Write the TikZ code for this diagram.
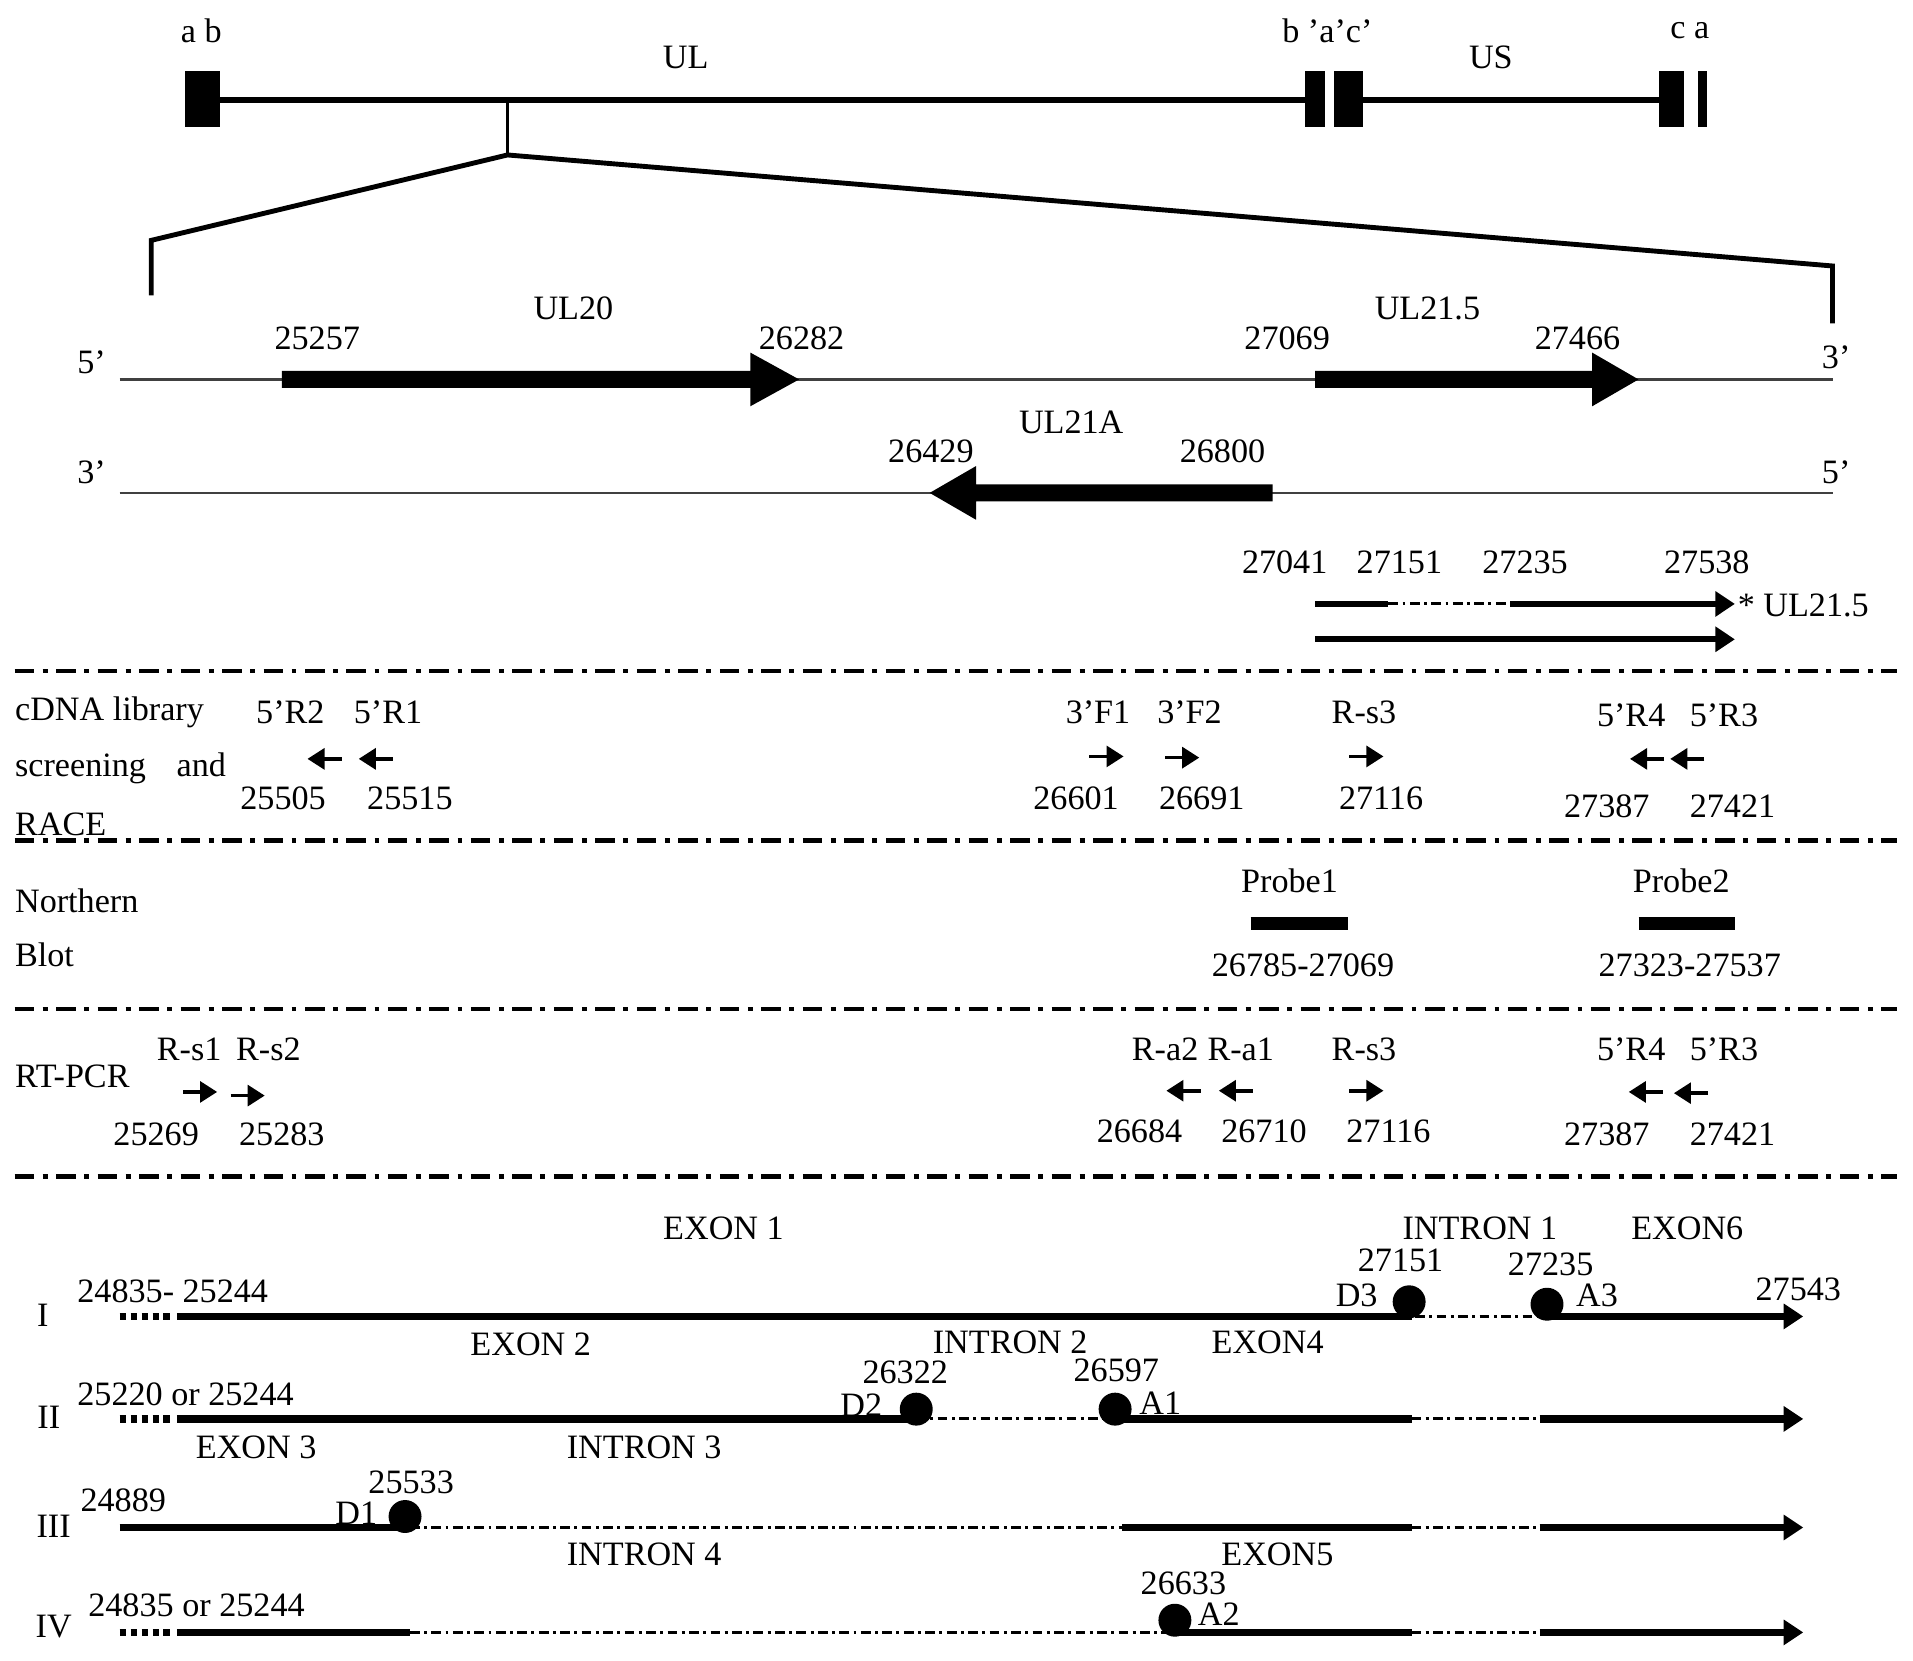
\documentclass[tikz,border=0pt]{standalone}
\usepackage{fontspec}
\setmainfont{Liberation Serif}
\usetikzlibrary{arrows.meta}
\newcommand\genearrow[4]{% start, neck, point, height
  \fill (#1,#4-7) -- (#2,#4-7) -- (#2,#4-22) -- (#3,#4)
        -- (#2,#4+22) -- (#2,#4+7) -- (#1,#4+7) -- cycle;}

\begin{document}
\begin{tikzpicture}[x=0.5pt,y=-0.5pt,
  lbl/.style={inner sep=0pt, font=\fontsize{14}{16}\selectfont},
  strand/.style={line width=1pt, black!75},
  sepline/.style={line width=2pt, dash pattern=on 8pt off 3.5pt on 2pt off 3.5pt},
  exon/.style={line width=3pt},
  intron/.style={line width=1.2pt, dash pattern=on 4pt off 1.8pt on 1.2pt off 1.8pt},
  lead/.style={line width=3pt, dash pattern=on 2.5pt off 2pt},
  primer/.style={line width=1.5pt, -{Triangle[length=7pt,width=8.5pt]}},
  endarrow/.style={-{Triangle[length=8pt,width=10pt]}},
  site/.style={circle, fill, inner sep=0pt, minimum size=13.5pt}]
\useasboundingbox (0,0) rectangle (1568,1361);

  % genome map
  \fill (152,58) rectangle (180,104);
  \draw[line width=2.5pt] (180,82) -- (1072,82);
  \fill (1070,58) rectangle (1086,104);
  \fill (1093,58) rectangle (1117,104);
  \draw[line width=2.5pt] (1117,82) -- (1360,82);
  \fill (1360,58) rectangle (1380,104);
  \fill (1392,58) rectangle (1399,104);
  \node[lbl] (ab) at (165,25) {a b};
  \node[lbl] (ul) at (562,47) {UL};
  \node[lbl] (bac) at (1088,25) {b ’a’c’};
  \node[lbl] (us) at (1222,47) {US};
  \node[lbl] (ca) at (1385,25) {c a};

  % blow-up of the region
  \coordinate (stem) at (416,82);
  \coordinate (apex) at (416,127);
  \coordinate (leftcorner) at (124,197);
  \coordinate (rightcorner) at (1502,218);
  \draw[line width=1.5pt] (stem) -- (apex);
  \draw[line width=2pt] (124,242) -- (leftcorner) -- (apex) -- (rightcorner) -- (1502,265);

  % upper strand
  \draw[strand] (98,311) -- (1502,311);
  \genearrow{231}{615}{655}{311}
  \genearrow{1078}{1305}{1343}{311}
  \node[lbl] (five1) at (75,297) {5’};
  \node[lbl] (three1) at (1505,293) {3’};
  \node[lbl] (ul20) at (470,253) {UL20};
  \node[lbl] (s25257) at (260,277) {25257};
  \node[lbl] (e26282) at (657,277) {26282};
  \node[lbl] (ul215) at (1170,253) {UL21.5};
  \node[lbl] (s27069) at (1055,277) {27069};
  \node[lbl] (e27466) at (1293,277) {27466};

  % lower strand
  \draw[strand] (98,404) -- (1502,404);
  \genearrow{1043}{800}{762}{404}
  \node[lbl] (three2) at (75,387) {3’};
  \node[lbl] (five2) at (1505,387) {5’};
  \node[lbl] (ul21a) at (878,346) {UL21A};
  \node[lbl] (e26429) at (763,370) {26429};
  \node[lbl] (s26800) at (1002,370) {26800};

  % transcripts
  \node[lbl] (t27041) at (1053,461) {27041};
  \node[lbl] (t27151) at (1147,461) {27151};
  \node[lbl] (t27235) at (1250,461) {27235};
  \node[lbl] (t27538) at (1399,461) {27538};
  \draw[line width=2.5pt] (1078,495) -- (1138,495);
  \draw[intron] (1138,495) -- (1238,495);
  \draw[line width=2.5pt, endarrow] (1238,495) -- (1422,495);
  \draw[line width=2.5pt, endarrow] (1078,524) -- (1422,524);
  \node[lbl, anchor=west] (star) at (1424,496) {* UL21.5};

  % section dividers
  \foreach \y in {550,689,827,964}
    \draw[sepline] (12,\y) -- (1555,\y);

  % cDNA library screening and RACE
  \node[lbl, anchor=west] (cdna) at (12,584) {cDNA library};
  \node[lbl, anchor=west] (screen) at (12,630) {screening\hspace{0.9em}and};
  \node[lbl, anchor=west] (race) at (12,676) {RACE};
  \node[lbl] (r2) at (238,584) {5’R2};
  \node[lbl] (r1) at (318,584) {5’R1};
  \draw[primer] (280,622) -- (252,622);
  \draw[primer] (322,622) -- (294,622);
  \node[lbl] (p25505) at (232,654) {25505};
  \node[lbl] (p25515) at (336,654) {25515};
  \node[lbl] (f1) at (900,584) {3’F1};
  \node[lbl] (f2) at (975,584) {3’F2};
  \node[lbl] (rs3a) at (1118,584) {R-s3};
  \draw[primer] (893,620) -- (921,620);
  \draw[primer] (955,621) -- (983,621);
  \draw[primer] (1106,620) -- (1134,620);
  \node[lbl] (p26601) at (882,654) {26601};
  \node[lbl] (p26691) at (985,654) {26691};
  \node[lbl] (p27116a) at (1132,654) {27116};
  \node[lbl] (r4a) at (1337,586) {5’R4};
  \node[lbl] (r3a) at (1413,586) {5’R3};
  \draw[primer] (1364,622) -- (1336,622);
  \draw[primer] (1397,622) -- (1369,622);
  \node[lbl] (p27387a) at (1317,661) {27387};
  \node[lbl] (p27421a) at (1420,661) {27421};

  % Northern blot
  \node[lbl, anchor=west] (north) at (12,738) {Northern};
  \node[lbl, anchor=west] (blot) at (12,783) {Blot};
  \node[lbl] (probe1) at (1057,722) {Probe1};
  \draw[line width=5pt] (1025,757) -- (1105,757);
  \node[lbl] (range1) at (1068,791) {26785-27069};
  \node[lbl] (probe2) at (1378,722) {Probe2};
  \draw[line width=5pt] (1343,757) -- (1422,757);
  \node[lbl] (range2) at (1385,791) {27323-27537};

  % RT-PCR
  \node[lbl, anchor=west] (rtpcr) at (12,882) {RT-PCR};
  \node[lbl] (rs1) at (155,860) {R-s1};
  \node[lbl] (rs2) at (220,860) {R-s2};
  \draw[primer] (150,895) -- (178,895);
  \draw[primer] (189,898) -- (217,898);
  \node[lbl] (p25269) at (128,930) {25269};
  \node[lbl] (p25283) at (231,930) {25283};
  \node[lbl] (ra2) at (955,860) {R-a2};
  \node[lbl] (ra1) at (1017,860) {R-a1};
  \node[lbl] (rs3b) at (1118,860) {R-s3};
  \draw[primer] (984,894) -- (956,894);
  \draw[primer] (1027,894) -- (999,894);
  \draw[primer] (1106,894) -- (1134,894);
  \node[lbl] (p26684) at (934,927) {26684};
  \node[lbl] (p26710) at (1036,927) {26710};
  \node[lbl] (p27116b) at (1138,927) {27116};
  \node[lbl] (r4b) at (1337,860) {5’R4};
  \node[lbl] (r3b) at (1413,860) {5’R3};
  \draw[primer] (1363,895) -- (1335,895);
  \draw[primer] (1400,896) -- (1372,896);
  \node[lbl] (p27387b) at (1317,930) {27387};
  \node[lbl] (p27421b) at (1420,930) {27421};

  % splice variants
  \node[lbl] (exon1) at (593,1007) {EXON 1};
  \node[lbl] (intron1) at (1213,1007) {INTRON 1};
  \node[lbl] (exon6) at (1383,1007) {EXON6};
  \node[lbl] (exon2) at (435,1102) {EXON 2};
  \node[lbl] (intron2) at (828,1100) {INTRON 2};
  \node[lbl] (exon4) at (1039,1100) {EXON4};
  \node[lbl] (exon3) at (210,1186) {EXON 3};
  \node[lbl] (intron3) at (528,1186) {INTRON 3};
  \node[lbl] (intron4) at (528,1274) {INTRON 4};
  \node[lbl] (exon5) at (1047,1274) {EXON5};

  % variant I
  \node[lbl] (vI) at (35,1078) {I};
  \node[lbl, anchor=west] (startI) at (63,1058) {24835- 25244};
  \draw[lead] (98,1079) -- (140,1079);
  \draw[exon] (145,1079) -- (1157,1079);
  \draw[intron] (1160,1079) -- (1266,1079);
  \draw[exon, endarrow] (1268,1079) -- (1478,1079);
  \node[site] (d3) at (1155,1067) {};
  \node[site] (a3) at (1268,1069) {};
  \node[lbl] (D3) at (1112,1062) {D3};
  \node[lbl] (n27151) at (1148,1033) {27151};
  \node[lbl] (n27235) at (1271,1036) {27235};
  \node[lbl] (A3) at (1309,1062) {A3};
  \node[lbl] (n27543) at (1474,1057) {27543};

  % variant II
  \node[lbl] (vII) at (40,1162) {II};
  \node[lbl, anchor=west] (startII) at (63,1143) {25220 or 25244};
  \draw[lead] (98,1163) -- (140,1163);
  \draw[exon] (145,1163) -- (751,1163);
  \draw[intron] (751,1163) -- (914,1163);
  \draw[exon] (914,1163) -- (1157,1163);
  \draw[intron] (1157,1163) -- (1262,1163);
  \draw[exon, endarrow] (1262,1163) -- (1478,1163);
  \node[site] (d2) at (751,1155) {};
  \node[site] (a1) at (914,1155) {};
  \node[lbl] (D2) at (706,1152) {D2};
  \node[lbl] (n26322) at (742,1125) {26322};
  \node[lbl] (n26597) at (915,1123) {26597};
  \node[lbl] (A1) at (951,1150) {A1};

  % variant III
  \node[lbl] (vIII) at (44,1251) {III};
  \node[lbl] (startIII) at (101,1230) {24889};
  \draw[exon] (98,1252) -- (336,1252);
  \draw[intron] (336,1252) -- (920,1252);
  \draw[exon] (920,1252) -- (1157,1252);
  \draw[intron] (1157,1252) -- (1262,1252);
  \draw[exon, endarrow] (1262,1252) -- (1478,1252);
  \node[site] (d1) at (332,1243) {};
  \node[lbl] (D1) at (292,1240) {D1};
  \node[lbl] (n25533) at (337,1215) {25533};

  % variant IV
  \node[lbl] (vIV) at (44,1333) {IV};
  \node[lbl, anchor=west] (startIV) at (72,1316) {24835 or 25244};
  \draw[lead] (98,1338) -- (140,1338);
  \draw[exon] (145,1338) -- (336,1338);
  \draw[intron] (336,1338) -- (963,1338);
  \draw[exon] (963,1338) -- (1157,1338);
  \draw[intron] (1157,1338) -- (1262,1338);
  \draw[exon, endarrow] (1262,1338) -- (1478,1338);
  \node[site] (a2) at (963,1328) {};
  \node[lbl] (n26633) at (970,1298) {26633};
  \node[lbl] (A2) at (999,1323) {A2};
\end{tikzpicture}
\end{document}
